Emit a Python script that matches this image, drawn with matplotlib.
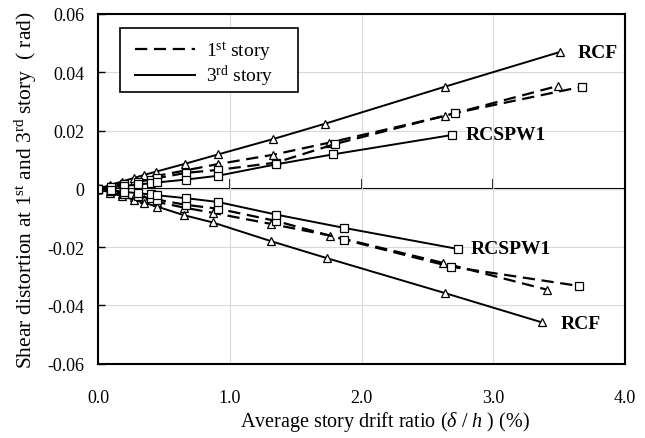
import matplotlib
matplotlib.use("Agg")
import matplotlib.pyplot as plt
from matplotlib.patches import Rectangle

plt.rcParams["font.family"] = ["Liberation Serif", "DejaVu Serif"]
plt.rcParams["mathtext.fontset"] = "custom"
plt.rcParams["mathtext.rm"] = "Liberation Serif"
plt.rcParams["mathtext.it"] = "Liberation Serif:italic"

# ---- data (drift ratio %, shear distortion rad) ----
# RCF, 3rd story (solid, triangles)
rcf3_x_pos = [0, 0.09, 0.18, 0.27, 0.35, 0.44, 0.66, 0.91, 1.33, 1.72, 2.63, 3.51]
rcf3_y_pos = [0, 0.0013, 0.0025, 0.0037, 0.0048, 0.0059, 0.0086, 0.0118, 0.0171, 0.0223, 0.0350, 0.0470]
rcf3_x_neg = [0, 0.09, 0.18, 0.27, 0.35, 0.45, 0.65, 0.87, 1.31, 1.74, 2.63, 3.37]
rcf3_y_neg = [0, -0.0013, -0.0025, -0.0037, -0.0048, -0.0061, -0.0090, -0.0115, -0.0179, -0.0238, -0.0357, -0.0458]
# RCF, 1st story (dashed, triangles)
rcf1_x_pos = [0, 0.09, 0.18, 0.27, 0.35, 0.44, 0.66, 0.91, 1.33, 1.75, 2.63, 3.49]
rcf1_y_pos = [0, 0.0009, 0.0018, 0.0027, 0.0035, 0.0044, 0.0063, 0.0085, 0.0117, 0.0158, 0.0250, 0.0353]
rcf1_x_neg = [0, 0.09, 0.18, 0.27, 0.35, 0.45, 0.65, 0.87, 1.31, 1.76, 2.62, 3.41]
rcf1_y_neg = [0, -0.0009, -0.0018, -0.0027, -0.0035, -0.0045, -0.0064, -0.0082, -0.0120, -0.0160, -0.0254, -0.0346]
# RCSPW1, 1st story (dashed, squares)
spw1_x_pos = [0, 0.1, 0.2, 0.3, 0.4, 0.45, 0.67, 0.91, 1.35, 1.80, 2.71, 3.67]
spw1_y_pos = [0, 0.0008, 0.0016, 0.0024, 0.0032, 0.0037, 0.0055, 0.0065, 0.0090, 0.0154, 0.0260, 0.0350]
spw1_x_neg = [0, 0.1, 0.2, 0.3, 0.4, 0.45, 0.67, 0.91, 1.35, 1.87, 2.68, 3.65]
spw1_y_neg = [0, -0.0008, -0.0016, -0.0024, -0.0032, -0.0037, -0.0055, -0.0068, -0.0110, -0.0174, -0.0267, -0.0333]
# RCSPW1, 3rd story (solid, squares)
spw3_x_pos = [0, 0.1, 0.2, 0.3, 0.4, 0.45, 0.67, 0.91, 1.35, 1.78, 2.69]
spw3_y_pos = [0, 0.0005, 0.0010, 0.0015, 0.0019, 0.0022, 0.0032, 0.0045, 0.0084, 0.0118, 0.0185]
spw3_x_neg = [0, 0.1, 0.2, 0.3, 0.4, 0.45, 0.67, 0.91, 1.35, 1.87, 2.73]
spw3_y_neg = [0, -0.0005, -0.0010, -0.0015, -0.0019, -0.0022, -0.0032, -0.0045, -0.0088, -0.0134, -0.0206]

x_ticks = [0.0, 1.0, 2.0, 3.0, 4.0]
x_ticklabels = ["0.0", "1.0", "2.0", "3.0", "4.0"]
y_ticks = [-0.06, -0.04, -0.02, 0, 0.02, 0.04, 0.06]
y_ticklabels = ["-0.06", "-0.04", "-0.02", "0", "0.02", "0.04", "0.06"]

fig = plt.figure(figsize=(6.45, 4.39), dpi=100)
ax = fig.add_axes([0.152, 0.169, 0.817, 0.797])

dash = dict(color="black", lw=1.6, ls=(0, (5.5, 3)), mfc="white", mec="black", mew=0.9)
solid = dict(color="black", lw=1.4, ls="-", mfc="white", mec="black", mew=0.9)
ms = 6.2

ax.plot(rcf1_x_pos, rcf1_y_pos, marker="^", ms=ms, label="1$^{\\mathrm{st}}$ story", **dash)
ax.plot(rcf3_x_pos, rcf3_y_pos, marker="^", ms=ms, label="3$^{\\mathrm{rd}}$ story", **solid)
ax.plot(rcf1_x_neg, rcf1_y_neg, marker="^", ms=ms, **dash)
ax.plot(rcf3_x_neg, rcf3_y_neg, marker="^", ms=ms, **solid)
ax.plot(spw1_x_pos, spw1_y_pos, marker="s", ms=ms, **dash)
ax.plot(spw1_x_neg, spw1_y_neg, marker="s", ms=ms, **dash)
ax.plot(spw3_x_pos, spw3_y_pos, marker="s", ms=ms, **solid)
ax.plot(spw3_x_neg, spw3_y_neg, marker="s", ms=ms, **solid)

# curve labels
lab = dict(fontsize=14, fontweight="bold", va="center", ha="left")
ax.text(rcf3_x_pos[-1] + 0.13, rcf3_y_pos[-1] - 0.0003, "RCF", **lab)
ax.text(spw3_x_pos[-1] + 0.1, spw3_y_pos[-1], "RCSPW1", **lab)
ax.text(spw3_x_neg[-1] + 0.1, spw3_y_neg[-1], "RCSPW1", **lab)
ax.text(rcf3_x_neg[-1] + 0.14, rcf3_y_neg[-1] - 0.0003, "RCF", **lab)

ax.set_xlim(0, 4)
ax.set_ylim(-0.06, 0.06)
ax.set_xticks(x_ticks)
ax.set_xticklabels(x_ticklabels)
ax.set_yticks(y_ticks)
ax.set_yticklabels(y_ticklabels)
ax.tick_params(axis="x", length=0, pad=18, labelsize=13)
ax.tick_params(axis="y", direction="in", length=5, width=1, labelsize=13, pad=10)
ax.grid(True, color="#d9d9d9", lw=0.8)
ax.set_axisbelow(True)
for sp in ax.spines.values():
    sp.set_linewidth(1.5)

# zero line with its own ticks
zax = ax.secondary_xaxis(0.5)
zax.set_xticks([1.0, 2.0, 3.0])
zax.set_xticklabels([])
zax.tick_params(direction="out", length=7, width=1.2)
zax.spines["bottom"].set_linewidth(1.5)
zax.spines["top"].set_linewidth(1.5)

ax.set_xlabel("Average story drift ratio ($\\mathit{\\delta}$ / $\\mathit{h}$ ) (%)", fontsize=14.5, labelpad=2)
ax.xaxis.label.set_x(0.545)
ax.set_ylabel("Shear distortion at 1$^{\\mathrm{st}}$ and 3$^{\\mathrm{rd}}$ story  ( rad)", fontsize=15.5, labelpad=6)

# legend without its own frame; a box with wider side padding is drawn behind it
leg = ax.legend(loc="upper left", bbox_to_anchor=(0.07, 0.927), frameon=False,
                fontsize=14, handlelength=3.1, borderpad=0, labelspacing=0.0,
                handletextpad=0.55, borderaxespad=0)
leg.set_zorder(6)
for h in leg.legend_handles:
    h.set_marker("")

fig.canvas.draw()
bb = leg.get_window_extent().transformed(ax.transAxes.inverted())
box_w, box_h = 178 / 527.0, 64 / 350.0
left = bb.x0 - 15 / 527.0
top = bb.y1 + 11 / 350.0
ax.add_patch(Rectangle((left, top - box_h), box_w, box_h,
                       transform=ax.transAxes, facecolor="white", edgecolor="black",
                       lw=1.2, zorder=5))

fig.savefig("out.png", dpi=100)
